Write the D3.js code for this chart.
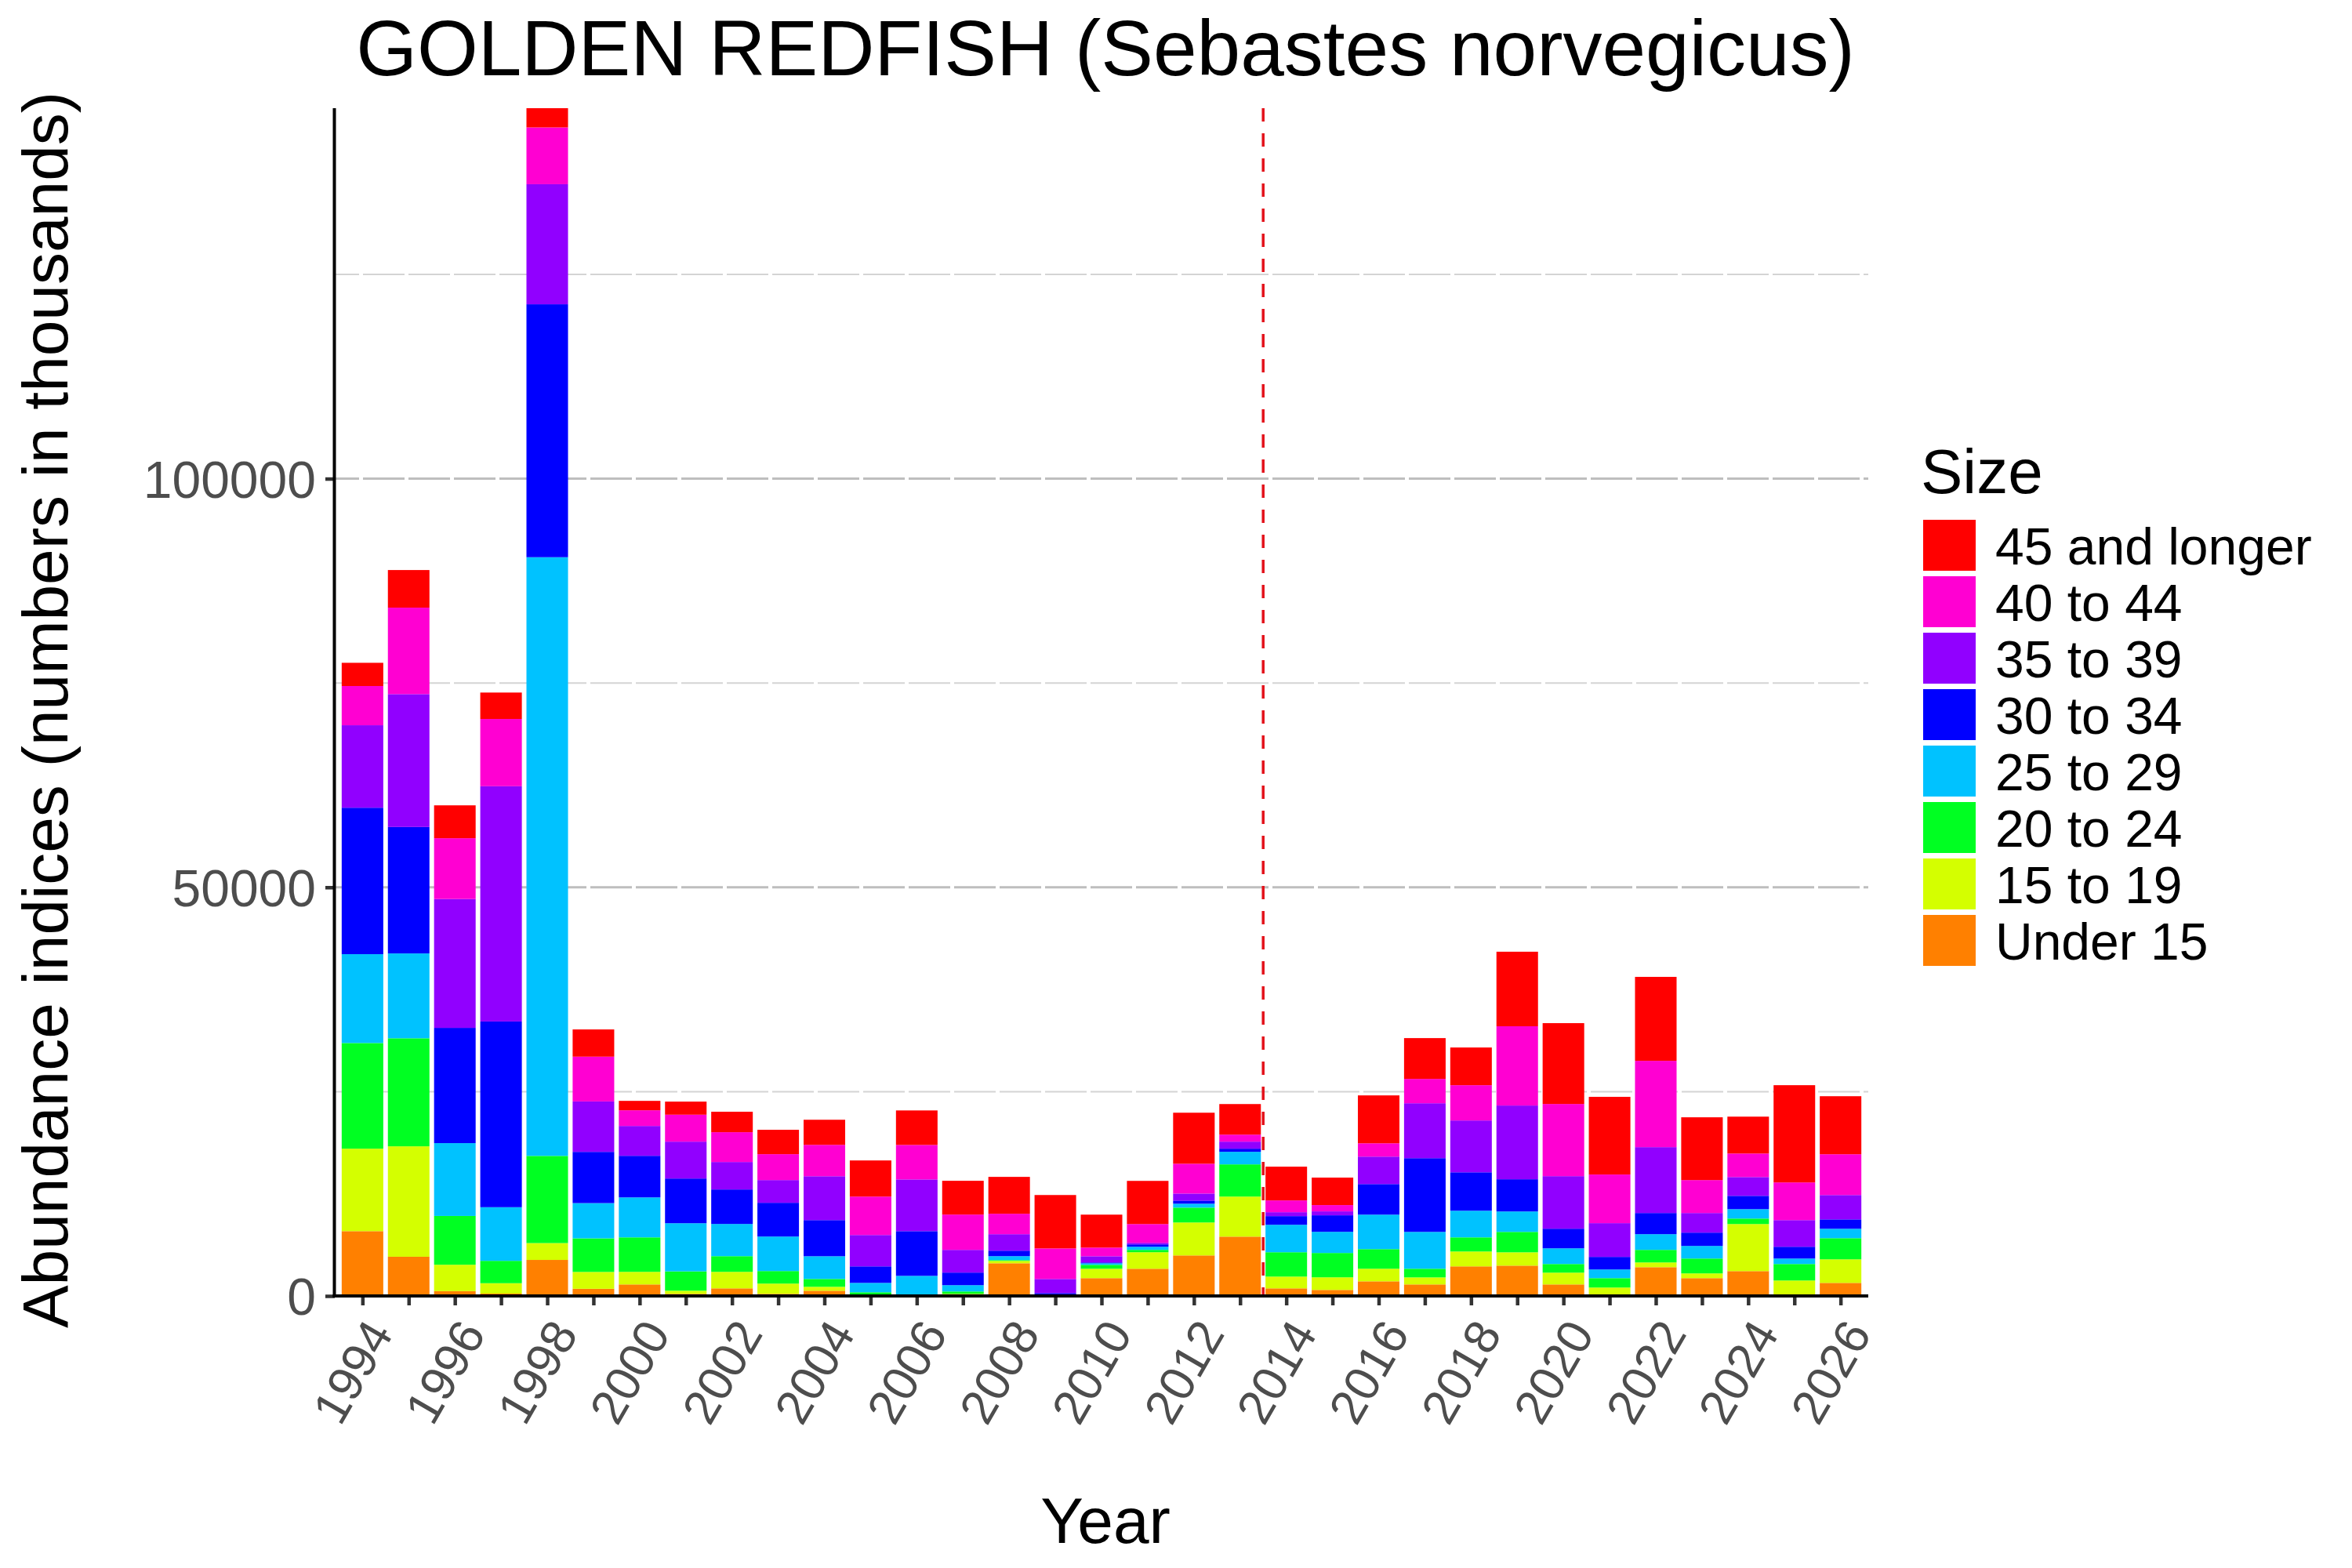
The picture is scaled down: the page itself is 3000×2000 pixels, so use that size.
<!DOCTYPE html>
<html>
<head>
<meta charset="utf-8">
<script src="https://cdn.jsdelivr.net/npm/d3@7"></script>
<style>
  body { margin: 0; background: #fff; }
  text { font-family: "Liberation Sans", Arial, sans-serif; }
</style>
</head>
<body>
<script>
// values (numbers in thousands)
const years = [1994,1995,1996,1997,1998,1999,2000,2001,2002,2003,2004,2005,2006,2007,2008,2009,2010,
               2011,2012,2013,2014,2015,2016,2017,2018,2019,2020,2021,2022,2023,2024,2025,2026];

const under15  = [7930,4800,590,290,4410,880,1410,260,930,260,640,0,0,60,4000,0,2180,3330,4960,7260,930,740,1790,1410,3620,3710,1410,100,3520,2180,3040,0,1600];
const s15to19  = [10090,13510,3230,1270,2060,2060,1540,380,2020,1250,480,100,0,200,290,0,1150,2020,4030,4900,1440,1540,1540,860,1820,1630,1440,930,580,580,5760,1890,2880];
const s20to24  = [12930,13220,5970,2740,10670,4110,4220,2370,1920,1540,960,350,0,290,100,50,480,290,1820,3940,2980,2980,2400,1060,1730,2500,1060,1150,1540,1820,670,2020,2590];
const s25to29  = [10870,10380,8910,6560,73250,4310,4890,5890,3940,4220,2780,1150,2460,770,480,100,190,380,480,1540,3360,2590,4220,4510,3260,2500,1920,1060,1920,1540,1150,670,1150];
const s30to34  = [17920,15470,14100,22720,30950,6270,5090,5470,4220,4130,4420,2020,5470,1540,670,200,100,290,380,380,1060,2020,3740,9020,4700,3940,2400,1540,2590,1630,1630,1440,1150];
const s35to39  = [10090,16260,15770,28790,14690,6170,3650,4510,3360,2780,5370,3840,6330,2780,2020,1730,760,190,860,860,480,480,3360,6720,6340,9020,6430,4130,8060,2400,2300,3260,2980];
const s40to44  = [4800,10580,7440,8230,6950,5480,1920,3300,3650,3170,3840,4700,4220,4320,2500,3740,1060,2300,3650,860,1440,770,1630,2980,4320,9700,8830,5950,10560,4030,2880,4610,4990];
const s45plus  = [2840,4600,4020,3230,2350,3330,1150,1600,2500,2980,3070,4420,4220,4130,4510,6530,4030,5280,6240,3740,4130,3360,5860,4990,4610,9120,9890,9500,10270,7680,4510,11900,7100];

// stacking order, bottom to top
const sizeKeys   = ["Under 15","15 to 19","20 to 24","25 to 29","30 to 34","35 to 39","40 to 44","45 and longer"];
const sizeSeries = [under15, s15to19, s20to24, s25to29, s30to34, s35to39, s40to44, s45plus];
const sizeColors = ["#FF8000","#D4FF00","#00FF22","#00C2FF","#0000FF","#9100FF","#FF00D2","#FF0000"];

// a tick on every year, a label on every other one
const xLabels = [1994,1996,1998,2000,2002,2004,2006,2008,2010,2012,2014,2016,2018,2020,2022,2024,2026];
const yTicks = [0, 50000, 100000];
const yGrid  = [25000, 50000, 75000, 100000, 125000];
const cutYear = 2013.5;

const W = 3000, H = 2000;
const panel = {left: 427, right: 2383, top: 138, bottom: 1653};

const rows = years.map((y, i) => {
  const r = {year: y};
  sizeKeys.forEach((k, j) => r[k] = sizeSeries[j][i]);
  return r;
});
const stacked = d3.stack().keys(sizeKeys)(rows);
const maxTotal = d3.max(rows, r => d3.sum(sizeKeys, k => r[k]));

const x = d3.scaleLinear().domain([years[0] - 0.6, years[years.length - 1] + 0.6]).range([panel.left, panel.right]);
const y = d3.scaleLinear().domain([0, maxTotal]).range([panel.bottom, panel.top]);
const color = d3.scaleOrdinal().domain(sizeKeys).range(sizeColors);
const barW = x(0.9) - x(0);

const svg = d3.select("body").append("svg")
  .attr("width", W).attr("height", H);

// gridlines
svg.append("g").selectAll("line")
  .data(yGrid)
  .join("line")
  .attr("x1", panel.left).attr("x2", panel.right)
  .attr("y1", d => y(d)).attr("y2", d => y(d))
  .attr("stroke", d => d % 50000 === 0 ? "#bebebe" : "#d4d4d4")
  .attr("stroke-width", d => d % 50000 === 0 ? 3 : 2)
  .attr("stroke-dasharray", "53 5")
  .attr("stroke-dashoffset", 22);

// bars
svg.append("g").selectAll("g")
  .data(stacked)
  .join("g")
  .attr("fill", d => color(d.key))
  .selectAll("rect")
  .data(d => d)
  .join("rect")
  .attr("x", d => x(d.data.year) - barW / 2)
  .attr("width", barW)
  .attr("y", d => y(d[1]))
  .attr("height", d => y(d[0]) - y(d[1]));

// dashed cut line
svg.append("line")
  .attr("x1", x(cutYear)).attr("x2", x(cutYear))
  .attr("y1", panel.top).attr("y2", panel.bottom)
  .attr("stroke", "#e3121b")
  .attr("stroke-width", 3.5)
  .attr("stroke-dasharray", "17 15");

// axes
const yAxis = svg.append("g").attr("transform", `translate(${panel.left},0)`)
  .call(d3.axisLeft(y).tickValues(yTicks).tickFormat(d3.format("d")).tickSize(12).tickPadding(12));
const xAxis = svg.append("g").attr("transform", `translate(0,${panel.bottom})`)
  .call(d3.axisBottom(x).tickValues(years)
    .tickFormat(d => xLabels.includes(d) ? String(d) : "")
    .tickSize(12));

[yAxis, xAxis].forEach(g => {
  g.select(".domain").remove();
  g.selectAll(".tick line").attr("stroke", "#333333").attr("stroke-width", 4.5);
  g.selectAll(".tick text").attr("fill", "#4d4d4d")
    .attr("font-family", "'Liberation Sans', Arial, sans-serif");
});
yAxis.selectAll(".tick text").attr("font-size", 66).attr("dy", "0.36em");
xAxis.selectAll(".tick text")
  .attr("font-size", 62)
  .attr("y", 0).attr("dy", 0)
  .attr("text-anchor", "end")
  .attr("transform", "translate(40,48) rotate(-60)");

svg.append("line")
  .attr("x1", panel.left - 0.5).attr("x2", panel.left - 0.5)
  .attr("y1", panel.top).attr("y2", panel.bottom + 2)
  .attr("stroke", "#000").attr("stroke-width", 4);
svg.append("line")
  .attr("x1", panel.left - 2.5).attr("x2", panel.right)
  .attr("y1", panel.bottom).attr("y2", panel.bottom)
  .attr("stroke", "#000").attr("stroke-width", 4);

// titles
svg.append("text")
  .attr("x", (panel.left + panel.right) / 2 + 5).attr("y", 96)
  .attr("text-anchor", "middle").attr("font-size", 100)
  .text("GOLDEN REDFISH (Sebastes norvegicus)");

svg.append("text")
  .attr("transform", `translate(86,${(panel.top + panel.bottom) / 2 + 10}) rotate(-90)`)
  .attr("text-anchor", "middle").attr("font-size", 82)
  .text("Abundance indices (numbers in thousands)");

svg.append("text")
  .attr("x", (panel.left + panel.right) / 2 + 5).attr("y", 1968)
  .attr("text-anchor", "middle").attr("font-size", 82)
  .text("Year");

// legend, top entry is the top of the stack
const legend = svg.append("g").attr("transform", "translate(2453,0)");
legend.append("text")
  .attr("x", -3).attr("y", 629)
  .attr("font-size", 80)
  .text("Size");

const legendItems = legend.selectAll("g")
  .data(sizeKeys.slice().reverse())
  .join("g")
  .attr("transform", (d, i) => `translate(0,${663 + i * 72})`);
legendItems.append("rect")
  .attr("width", 67).attr("height", 65)
  .attr("fill", d => color(d));
legendItems.append("text")
  .attr("x", 92).attr("y", 33).attr("dy", "0.36em")
  .attr("font-size", 66)
  .text(d => d);
</script>
</body>
</html>
